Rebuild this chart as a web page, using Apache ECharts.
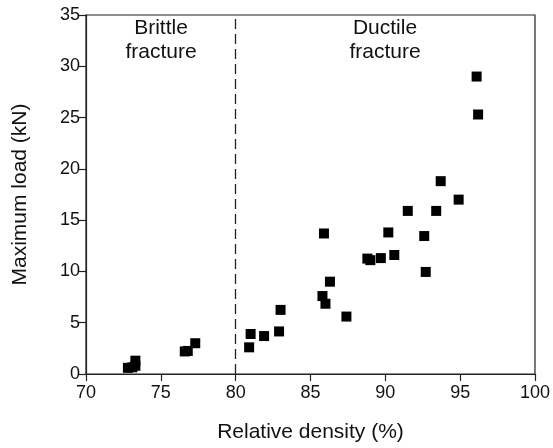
<!DOCTYPE html>
<html>
<head>
<meta charset="utf-8">
<script src="https://cdn.jsdelivr.net/npm/echarts@6/dist/echarts.min.js"></script>
<style>
  html, body { margin: 0; padding: 0; background: #fff; }
  #chart { width: 553px; height: 448px; }
</style>
</head>
<body>
<div id="chart"></div>
<script>
// Relative density (%) and maximum load (kN) of each specimen
const density = [72.8, 73.1, 73.3, 73.3, 76.6, 76.8, 77.3, 80.9, 81.0, 81.9, 82.9, 83.0,
  85.8, 85.9, 86.0, 86.3, 87.4, 88.8, 89.0, 89.7, 90.2, 90.6, 91.5, 92.6, 92.7,
  93.4, 93.7, 94.9, 96.1, 96.2];
const maxLoad = [0.6, 0.65, 0.8, 1.3, 2.2, 2.25, 3.0, 2.6, 3.9, 3.7, 4.15, 6.25,
  7.6, 13.7, 6.85, 9.0, 5.6, 11.25, 11.1, 11.3, 13.8, 11.6, 15.9, 13.45, 9.95,
  15.9, 18.8, 17.0, 29.0, 25.3];
const xTicks = [70, 75, 80, 85, 90, 95, 100];
const yTicks = [0, 5, 10, 15, 20, 25, 30, 35];
const transition = 80;
const regionLabels = ['Brittle\nfracture', 'Ductile\nfracture'];

const points = density.map((d, i) => [d, maxLoad[i]]);
const font = 'Liberation Sans, Arial, sans-serif';

const chart = echarts.init(document.getElementById('chart'), null, { renderer: 'canvas' });
chart.setOption({
  animation: false,
  backgroundColor: '#fff',
  grid: { left: 86, right: 17, top: 15, bottom: 71, show: true, borderColor: '#222', borderWidth: 1.2 },
  xAxis: {
    type: 'value', min: xTicks[0], max: xTicks[xTicks.length - 1], interval: 5,
    name: 'Relative density (%)', nameLocation: 'middle', nameGap: 48,
    nameTextStyle: { fontFamily: font, fontSize: 21, color: '#111' },
    axisLine: { show: true, onZero: false, lineStyle: { color: '#222', width: 1.2 } },
    axisTick: { show: true, inside: false, length: 7, lineStyle: { color: '#222', width: 1.2 } },
    axisLabel: { fontFamily: font, fontSize: 18, color: '#111', margin: 10 },
    splitLine: { show: false }
  },
  yAxis: {
    type: 'value', min: yTicks[0], max: yTicks[yTicks.length - 1], interval: 5,
    name: 'Maximum load (kN)', nameLocation: 'middle', nameGap: 55,
    nameTextStyle: { fontFamily: font, fontSize: 21, color: '#111' },
    axisLine: { show: true, onZero: false, lineStyle: { color: '#222', width: 1.2 } },
    axisTick: { show: true, inside: false, length: 7, lineStyle: { color: '#222', width: 1.2 } },
    axisLabel: { fontFamily: font, fontSize: 18, color: '#111', margin: 6 },
    splitLine: { show: false }
  },
  series: [{
    type: 'scatter',
    data: points,
    symbol: 'rect',
    symbolSize: 10,
    itemStyle: { color: '#000', opacity: 1 },
    markLine: {
      silent: true,
      symbol: 'none',
      label: { show: false },
      lineStyle: { color: '#222', type: [10, 5], width: 1.3 },
      data: [{ xAxis: transition }]
    }
  }],
  graphic: [
    { type: 'text', x: 161, y: 16, style: { text: regionLabels[0], font: '21px ' + font, fill: '#111', textAlign: 'center', textVerticalAlign: 'top', lineHeight: 24 } },
    { type: 'text', x: 385, y: 16, style: { text: regionLabels[1], font: '21px ' + font, fill: '#111', textAlign: 'center', textVerticalAlign: 'top', lineHeight: 24 } }
  ]
});
</script>
</body>
</html>
